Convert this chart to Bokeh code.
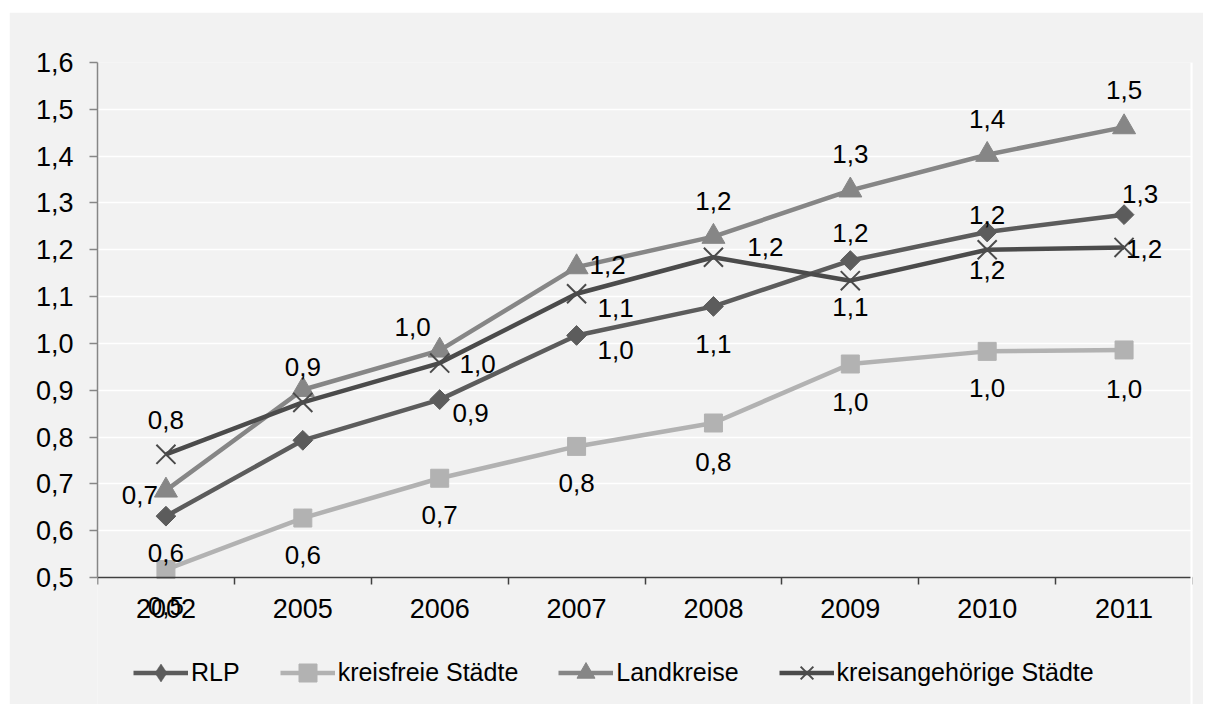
from bokeh.plotting import figure
from bokeh.models import (Range1d, FixedTicker, CustomJSTickFormatter, Legend,
                          LegendItem, ColumnDataSource, Span)
from bokeh.embed import file_html
from bokeh.resources import INLINE
from bokeh.core.properties import value
import math

# ---- data ----
years = ["2002", "2005", "2006", "2007", "2008", "2009", "2010", "2011"]
rlp = [0.631, 0.793, 0.880, 1.017, 1.079, 1.177, 1.238, 1.275]
kreisfreie = [0.517, 0.627, 0.712, 0.780, 0.830, 0.956, 0.983, 0.986]
landkreise = [0.686, 0.901, 0.985, 1.163, 1.228, 1.327, 1.403, 1.462]
kreisangehoerige = [0.763, 0.874, 0.958, 1.106, 1.184, 1.134, 1.200, 1.205]
series_names = ["RLP", "kreisfreie Städte", "Landkreise", "kreisangehörige Städte"]
y_ticks = [0.5, 0.6, 0.7, 0.8, 0.9, 1.0, 1.1, 1.2, 1.3, 1.4, 1.5, 1.6]
# which data labels are shown (the 2005 labels of two series are not shown)
label_shown = [
    [True, False, True, True, True, True, True, True],
    [True, True, True, True, True, True, True, True],
    [True, True, True, True, True, True, True, True],
    [True, False, True, True, True, True, True, True],
]

# ---- styles / layout ----
FONT = "Liberation Sans"
BG = "#f2f2f2"
colors = ["#5c5c5c", "#b2b2b2", "#868686", "#4b4b4b"]
markers = ["square", "square", "triangle", "x"]
legend_markers = ["diamond", "square", "triangle", "x"]
angles = [math.pi / 4, 0, 0, 0]
msizes = [14, 18, 23, 27]
# label offsets in screen pixels (dx, dy)
label_dx = [
    [0, 0, 31, 39, 0, 0, 0, 16],
    [0, 0, 0, 0, 0, 0, 0, 0],
    [-26, 0, -27, 31, 0, 0, 0, 0],
    [0, 0, 38, 39, 52, 0, 0, 20],
]
label_dy = [
    [37, 0, 13, 15, 38, -28, -17, -21],
    [36, 37, 37, 37, 39, 38, 37, 39],
    [5, -23, -23, -2, -36, -36, -36, -37],
    [-34, 0, 1, 14, -10, 26, 20, 2],
]

FIG_W, FIG_H = 1194, 692
TOP, LEFT, RIGHT = 50, 88, 11
AXIS_PX = 515           # pixel height of the 0.5..1.6 value band
frame_h = FIG_H - TOP   # the frame reaches the bottom; the x axis sits at 0.5
y_lo, y_hi = y_ticks[0], y_ticks[-1]
y_start = y_lo - (frame_h - AXIS_PX) * (y_hi - y_lo) / AXIS_PX

xs = [i + 0.5 for i in range(len(years))]

p = figure(width=FIG_W, height=FIG_H, output_backend="svg", toolbar_location=None,
           x_range=Range1d(0, len(years)), y_range=Range1d(y_start, y_hi),
           min_border_left=LEFT, min_border_right=RIGHT, min_border_top=TOP,
           min_border_bottom=0)
p.margin = (12, 0, 0, 9)
p.background_fill_color = BG
p.border_fill_color = BG
p.outline_line_color = None

p.xgrid.visible = False
p.ygrid.grid_line_color = "white"
p.ygrid.grid_line_width = 1.5

yax = p.yaxis[0]
yax.ticker = FixedTicker(ticks=y_ticks)
yax.bounds = (y_lo, y_hi)
yax.formatter = CustomJSTickFormatter(code="return tick.toFixed(1).replace('.', ',');")
yax.axis_line_color = "#868686"
yax.axis_line_width = 1.5
yax.major_tick_line_color = "#868686"
yax.major_tick_line_width = 1.5
yax.major_tick_out = 8
yax.major_tick_in = 0
yax.minor_tick_line_color = None
yax.major_label_text_font = FONT
yax.major_label_text_font_size = "27px"
yax.major_label_text_color = "black"
yax.major_label_standoff = 16

xax = p.xaxis[0]
xax.fixed_location = y_lo
xax.ticker = FixedTicker(ticks=xs, minor_ticks=list(range(len(years) + 1)))
xax.formatter = CustomJSTickFormatter(args=dict(years=years),
                                      code="return years[Math.floor(tick)];")
xax.axis_line_color = "#404040"
xax.axis_line_width = 1.5
xax.major_tick_out = 0
xax.major_tick_in = 0
xax.minor_tick_line_color = "#404040"
xax.minor_tick_line_width = 1.5
xax.minor_tick_out = 7
xax.minor_tick_in = 0
xax.major_label_text_font = FONT
xax.major_label_text_font_size = "27px"
xax.major_label_text_color = "black"
xax.major_label_standoff = 14

p.add_layout(Span(location=len(years), dimension="height",
                  line_color="white", line_width=4))

all_series = [rlp, kreisfreie, landkreise, kreisangehoerige]
items = []
for k, vals in enumerate(all_series):
    src = ColumnDataSource(dict(x=xs, y=vals))
    lr = p.line("x", "y", source=src, line_color=colors[k], line_width=4.5)
    legend_r = None
    if legend_markers[k] != markers[k]:
        # legend marker; in the plot it lies hidden under the rotated square
        legend_r = p.scatter("x", "y", source=src, marker=legend_markers[k],
                             size=17, fill_color=colors[k],
                             line_color=colors[k], line_width=0.5)
    if markers[k] == "x":
        sr = p.scatter("x", "y", source=src, marker="x", size=msizes[k],
                       line_color=colors[k], line_width=2)
    else:
        sr = p.scatter("x", "y", source=src, marker=markers[k], size=msizes[k],
                       angle=angles[k], fill_color=colors[k],
                       line_color=colors[k], line_width=1)
    items.append(LegendItem(label=series_names[k],
                            renderers=[lr, legend_r if legend_r is not None else sr]))

for k, vals in enumerate(all_series):
    lx, ly, lt, dx, dy = [], [], [], [], []
    for i, v in enumerate(vals):
        if not label_shown[k][i]:
            continue
        lx.append(xs[i])
        ly.append(v)
        lt.append(f"{v:.1f}".replace(".", ","))
        dx.append(label_dx[k][i])
        dy.append(label_dy[k][i])
    lsrc = ColumnDataSource(dict(x=lx, y=ly, t=lt, dx=dx, dy=dy))
    p.text("x", "y", text="t", source=lsrc, x_offset="dx", y_offset="dy",
           text_align="center", text_baseline="middle",
           text_font=value(FONT), text_font_size="26px", text_color="black")

legend = Legend(items=items, orientation="horizontal", location=(36, 9.5),
                glyph_width=55, glyph_height=45, label_standoff=3, spacing=40,
                padding=0, margin=0, border_line_color=None,
                background_fill_alpha=0, label_text_font=FONT,
                label_text_font_size="25px", label_text_color="black",
                label_height=45)
p.add_layout(legend)

open("out.html", "w").write(file_html(p, INLINE))
